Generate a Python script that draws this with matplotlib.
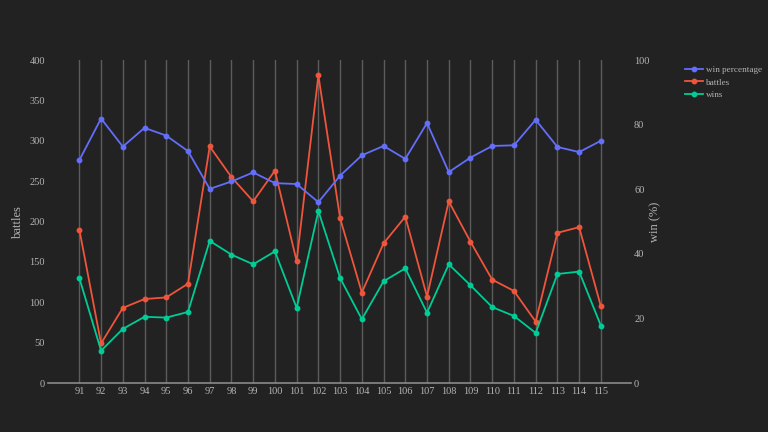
import matplotlib
matplotlib.use("Agg")
import matplotlib.pyplot as plt

seasons = list(range(91, 116))
battles = [190, 49, 93, 104, 106, 123, 293, 255, 225, 263, 151, 381, 204, 112, 173,
           206, 107, 225, 175, 128, 114, 76, 186, 193, 95]
wins = [130, 40, 67, 82, 81, 88, 176, 159, 147, 163, 93, 213, 130, 79, 126,
        142, 87, 147, 121, 94, 83, 62, 135, 138, 71]
win_pct = [69.0, 81.9, 73.2, 79.0, 76.6, 71.8, 60.1, 62.4, 65.2, 61.9, 61.6, 56.0, 64.2,
           70.5, 73.4, 69.4, 80.5, 65.3, 69.8, 73.4, 73.6, 81.5, 73.1, 71.5, 75.0]
left_ticks = [0, 50, 100, 150, 200, 250, 300, 350, 400]
right_ticks = [0, 20, 40, 60, 80, 100]

BG = "#222222"
TXT = "#b4b4b4"
GRID = "#5c5c5c"
C_BLUE = "#636efa"
C_RED = "#ef553b"
C_GREEN = "#00cc96"

plt.rcParams['font.family'] = ['Liberation Serif', 'DejaVu Serif']

fig = plt.figure(figsize=(7.68, 4.32), dpi=100, facecolor=BG)
ax = fig.add_axes([0.062, 0.1134, 0.760, 0.7476])
ax.set_facecolor(BG)
ax2 = ax.twinx()

lw = 1.3
ms = 3.2
l2, = ax.plot(seasons, battles, color=C_RED, lw=lw, marker='o', ms=ms, label='battles', zorder=3)
l3, = ax.plot(seasons, wins, color=C_GREEN, lw=lw, marker='o', ms=ms, label='wins', zorder=3)
l1, = ax2.plot(seasons, win_pct, color=C_BLUE, lw=lw, marker='o', ms=ms, label='win percentage', zorder=3)

ax.set_xlim(89.54, 116.4)
ax.set_ylim(0, 400)
ax2.set_ylim(0, 100)
ax.set_xticks(seasons)
ax.set_xticklabels([str(s) for s in seasons])
ax.set_yticks(left_ticks)
ax2.set_yticks(right_ticks)

ax.grid(axis='x', color=GRID, lw=1.0)
ax.grid(axis='y', visible=False)
ax2.grid(False)
ax.set_axisbelow(True)

for a in (ax, ax2):
    for s in a.spines.values():
        s.set_visible(False)
    a.tick_params(colors=TXT, labelsize=7.5, length=0)
ax.spines['bottom'].set_visible(True)
ax.spines['bottom'].set_color('#8a8a8a')
ax.spines['bottom'].set_linewidth(1.2)
ax.tick_params(axis='x', pad=3)
ax.tick_params(axis='y', pad=2)
ax2.tick_params(axis='y', pad=2)

ax.set_ylabel('battles', color=TXT, fontsize=9, labelpad=4)
ax2.set_ylabel('win (%)', color=TXT, fontsize=9, labelpad=0)

leg = fig.legend(handles=[l1, l2, l3], loc='upper left', bbox_to_anchor=(0.892, 0.848),
                 frameon=False, fontsize=6.6, labelcolor=TXT, handlelength=1.95,
                 handletextpad=0.3, labelspacing=0.45, borderaxespad=0, borderpad=0)

fig.savefig('out.png', dpi=100, facecolor=BG)
